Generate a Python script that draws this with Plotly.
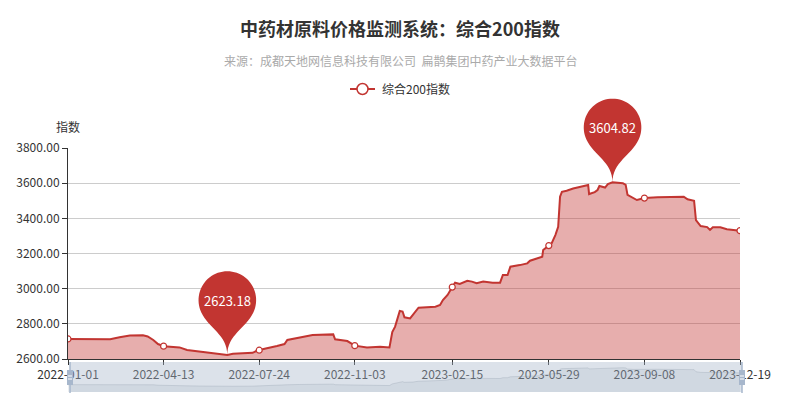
import math
import plotly.graph_objects as go

# ---------------- data ----------------
dates = [
    "2022-01-01", "2022-02-15", "2022-02-25", "2022-03-08", "2022-03-22", "2022-03-27",
    "2022-04-02", "2022-04-07", "2022-04-13", "2022-04-30", "2022-05-08", "2022-05-22",
    "2022-06-05", "2022-06-20", "2022-06-26", "2022-07-17", "2022-07-22", "2022-07-24",
    "2022-07-31", "2022-08-12", "2022-08-20", "2022-08-23", "2022-09-05", "2022-09-19",
    "2022-10-11", "2022-10-13", "2022-10-26", "2022-11-03", "2022-11-16", "2022-11-30",
    "2022-12-10", "2022-12-13", "2022-12-16", "2022-12-18", "2022-12-21", "2022-12-24",
    "2022-12-26", "2023-01-01", "2023-01-04", "2023-01-10", "2023-01-28", "2023-02-02",
    "2023-02-05", "2023-02-10", "2023-02-15", "2023-02-18", "2023-02-23", "2023-03-03",
    "2023-03-08", "2023-03-13", "2023-03-20", "2023-03-30", "2023-04-07", "2023-04-10",
    "2023-04-15", "2023-04-18", "2023-04-28", "2023-05-06", "2023-05-09", "2023-05-16",
    "2023-05-22", "2023-05-23", "2023-05-29", "2023-06-01", "2023-06-05", "2023-06-07",
    "2023-06-08", "2023-06-10", "2023-06-12", "2023-06-17", "2023-06-24", "2023-07-10",
    "2023-07-11", "2023-07-17", "2023-07-20", "2023-07-22", "2023-07-28", "2023-07-31",
    "2023-08-05", "2023-08-16", "2023-08-19", "2023-08-21", "2023-08-27", "2023-08-31",
    "2023-09-08", "2023-09-22", "2023-10-20", "2023-10-24", "2023-10-31", "2023-11-02",
    "2023-11-07", "2023-11-14", "2023-11-17", "2023-11-20", "2023-11-28", "2023-12-05",
    "2023-12-19",
]
values = [
    2714, 2713, 2724, 2733, 2735, 2728,
    2708, 2685, 2673, 2666, 2651, 2642,
    2630, 2623.18, 2630, 2635, 2648, 2650,
    2660, 2674, 2685, 2708, 2723, 2736,
    2740, 2712, 2702, 2676, 2666, 2670,
    2666, 2753, 2784, 2822, 2873, 2870,
    2837, 2831, 2850, 2892, 2897, 2907,
    2935, 2964, 3009, 3034, 3027, 3045,
    3040, 3031, 3040, 3034, 3034, 3078,
    3078, 3125, 3134, 3144, 3159, 3172,
    3182, 3220, 3245, 3258, 3305, 3330,
    3352, 3523, 3551, 3557, 3570, 3590,
    3538, 3549, 3561, 3584, 3575, 3595,
    3604.82, 3600, 3590, 3533, 3514, 3504,
    3515, 3520, 3523, 3508, 3500, 3390,
    3356, 3350, 3334, 3349, 3349, 3338,
    3330,
]
tick_dates = ["2022-01-01", "2022-04-13", "2022-07-24", "2022-11-03",
              "2023-02-15", "2023-05-29", "2023-09-08", "2023-12-19"]

title_text = "中药材原料价格监测系统：综合200指数"
subtitle_text = "来源：成都天地网信息科技有限公司\u00a0\u00a0扁鹊集团中药产业大数据平台"
series_name = "综合200指数"
y_name = "指数"
y_min, y_max, y_step = 2600, 3800, 200

# ---------------- geometry / style ----------------
W, H = 800, 400
L, R, T, B = 68, 60, 148, 8
PW, PH = W - L - R, H - T - B
FONT = "Noto Sans CJK SC, Noto Sans, sans-serif"
RED = "#c23531"


def px_x(px):
    return (px - L) / PW


def px_y(py):
    return (H - B - py) / PH


main_domain = [px_y(359), 1.0]
shadow_domain = [px_y(392), px_y(362)]


def pin_path(size=96, n=48):
    w = size * 3 / 5
    h = size
    r = w / 2
    dy = r * r / (h - r)
    cy = h - r - dy  # circle centre above the tip (y up)
    ang = math.asin(dy / r)
    dx = math.cos(ang) * r
    tx, ty = math.sin(ang), math.cos(ang)
    cp1, cp2 = r * 0.6, r * 0.7
    pts = []
    a0, a1 = math.pi - ang, 2 * math.pi + ang
    for i in range(n + 1):
        t = a0 + (a1 - a0) * i / n
        pts.append((r * math.cos(t), cy - r * math.sin(t)))
    p = "M %.2f,%.2f " % pts[0]
    for (x, y) in pts[1:]:
        p += "L %.2f,%.2f " % (x, y)
    p += "C %.2f,%.2f %.2f,%.2f %.2f,%.2f " % (dx - tx * cp1, cy - dy - ty * cp1, 0, cp2, 0, 0)
    p += "C %.2f,%.2f %.2f,%.2f %.2f,%.2f Z" % (0, cp2, -dx + tx * cp1, cy - dy - ty * cp1, -dx, cy - dy)
    return p, cy


fig = go.Figure()

# main area series
fig.add_trace(go.Scatter(
    x=dates, y=values, mode="lines", name=series_name,
    line=dict(color=RED, width=2),
    fill="tozeroy", fillcolor="rgba(194,53,49,0.4)",
    showlegend=False, hoverinfo="x+y",
))
# symbols shown at label positions
mk_y = [values[dates.index(d)] for d in tick_dates]
fig.add_trace(go.Scatter(
    x=tick_dates, y=mk_y, mode="markers", showlegend=False,
    marker=dict(size=6, color="white", line=dict(color=RED, width=1.2)),
    hoverinfo="skip",
))
# data shadow in slider
vmin, vmax = min(values), max(values)
span = (vmax - vmin) * 0.3
fig.add_trace(go.Scatter(
    x=dates, y=values, mode="lines", yaxis="y2", showlegend=False,
    line=dict(color="rgba(47,69,84,0.3)", width=0.6),
    fill="tozeroy", fillcolor="rgba(47,69,84,0.09)", hoverinfo="skip",
))

shapes = []
annotations = []

# mark points (min and max pins)
path, cy = pin_path(96)
for idx in (values.index(vmin), values.index(vmax)):
    v = values[idx]
    shapes.append(dict(
        type="path", xref="x", yref="paper", xsizemode="pixel", ysizemode="pixel",
        xanchor=dates[idx],
        yanchor=main_domain[0] + (v - y_min) / (y_max - y_min) * (main_domain[1] - main_domain[0]),
        path=path, fillcolor=RED, line=dict(width=0), layer="above",
    ))
    annotations.append(dict(
        x=dates[idx], y=v, xref="x", yref="y", yshift=cy, showarrow=False,
        text="%.2f" % v, font=dict(family=FONT, size=13, color="white"),
        xanchor="center", yanchor="middle",
    ))

# slider filler and handles
shapes.append(dict(type="rect", xref="paper", yref="paper",
                   x0=px_x(70), x1=px_x(742), y0=px_y(392), y1=px_y(362),
                   fillcolor="rgba(167,183,203,0.4)", line=dict(width=0), layer="above"))
for hx in (70, 742):
    shapes.append(dict(type="line", xref="paper", yref="paper",
                       x0=px_x(hx), x1=px_x(hx), y0=px_y(393), y1=px_y(362),
                       line=dict(color="#a7b7cc", width=1.5), layer="above"))
    shapes.append(dict(type="rect", xref="paper", yref="paper",
                       x0=px_x(hx - 3), x1=px_x(hx + 3), y0=px_y(385), y1=px_y(370),
                       fillcolor="#a7b7cc", line=dict(width=0), layer="above"))
    for ly in (376, 379):
        shapes.append(dict(type="line", xref="paper", yref="paper",
                           x0=px_x(hx - 2), x1=px_x(hx + 2), y0=px_y(ly), y1=px_y(ly),
                           line=dict(color="white", width=1), layer="above"))

# legend (manual)
shapes.append(dict(type="line", xref="paper", yref="paper",
                   x0=px_x(350), x1=px_x(375), y0=px_y(89), y1=px_y(89),
                   line=dict(color=RED, width=2)))
shapes.append(dict(type="circle", xref="paper", yref="paper",
                   x0=px_x(357), x1=px_x(368), y0=px_y(94.5), y1=px_y(83.5),
                   fillcolor="white", line=dict(color=RED, width=1.5), layer="above"))
annotations.append(dict(xref="paper", yref="paper", x=px_x(380), y=px_y(89),
                        text=series_name, showarrow=False, xanchor="left", yanchor="middle",
                        font=dict(family=FONT, size=12, color="#333")))
# subtitle
annotations.append(dict(xref="paper", yref="paper", x=px_x(400), y=px_y(60),
                        text=subtitle_text, showarrow=False, xanchor="center", yanchor="middle",
                        font=dict(family=FONT, size=12, color="#aaa")))
# y axis name
annotations.append(dict(xref="paper", yref="paper", x=px_x(68), y=px_y(127),
                        text=y_name, showarrow=False, xanchor="center", yanchor="middle",
                        font=dict(family=FONT, size=12, color="#333")))

fig.update_layout(
    template="none",
    width=W, height=H, margin=dict(l=L, r=R, t=T, b=B, pad=0, autoexpand=False),
    paper_bgcolor="white", plot_bgcolor="white",
    font=dict(family=FONT, size=12, color="#333"),
    title=dict(text=title_text, x=0.5, xref="container", xanchor="center",
               y=1 - 30 / H, yref="container", yanchor="middle",
               font=dict(family=FONT, size=18, color="#333", weight="bold")),
    xaxis=dict(type="date", range=[dates[0], dates[-1]], anchor="y", automargin=False,
               tickvals=tick_dates, tickformat="%Y-%m-%d",
               showline=True, linecolor="#333", linewidth=1,
               ticks="outside", ticklen=5, tickcolor="#333",
               showgrid=False, zeroline=False,
               tickfont=dict(family=FONT, size=12, color="#333")),
    yaxis=dict(domain=main_domain, range=[y_min, y_max], dtick=y_step, tick0=y_min,
               automargin=False,
               tickformat=".2f", showline=True, linecolor="#333", linewidth=1,
               ticks="outside", ticklen=5, tickcolor="#333",
               showgrid=True, gridcolor="#ccc", gridwidth=1, zeroline=False,
               tickfont=dict(family=FONT, size=12, color="#333")),
    yaxis2=dict(domain=shadow_domain, range=[vmin - span, vmax + span],
                visible=False, anchor="x", automargin=False),
    shapes=shapes, annotations=annotations, showlegend=False,
)

fig.write_html("out.html", config={"displayModeBar": False},
               post_script="document.body.style.margin='0px';")
